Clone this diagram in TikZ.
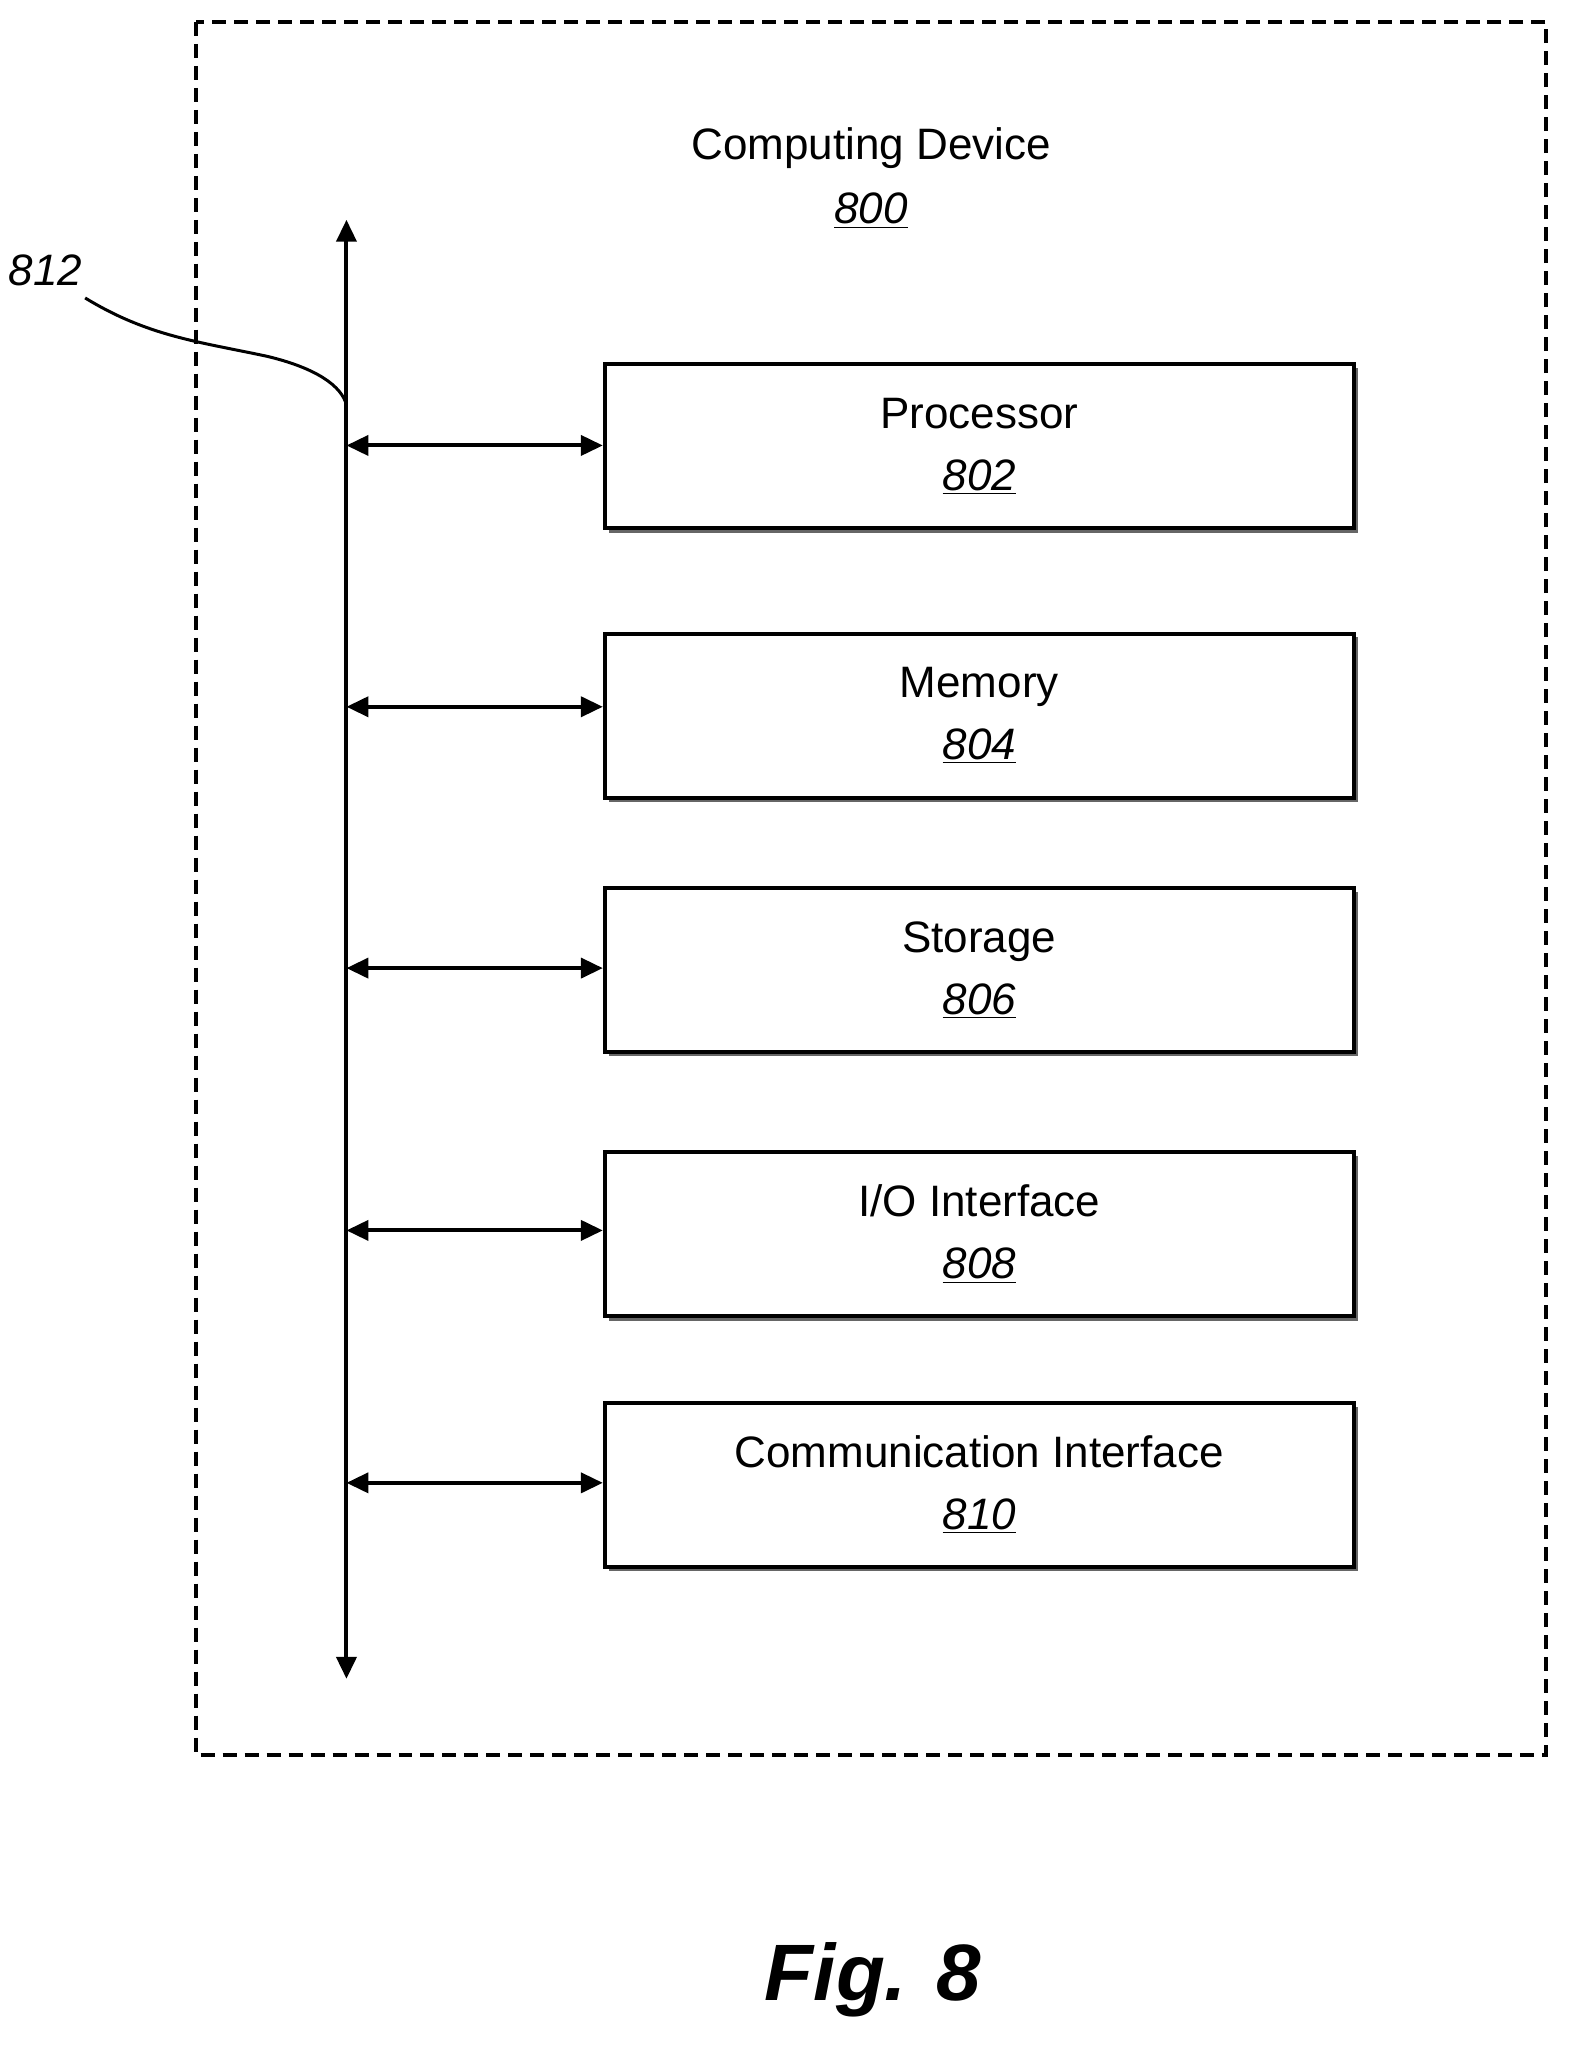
\documentclass[tikz,border=0pt]{standalone}
\usepackage{fontspec}
\setmainfont{Liberation Sans}
\usetikzlibrary{arrows.meta}
\begin{document}
\begin{tikzpicture}[x=0.495pt,y=-0.495pt,
  blk/.style={draw,line width=2pt,fill=white,minimum width=374.5pt,minimum height=82pt,anchor=north west,inner sep=0pt},
  lbl/.style={font=\fontsize{22}{28}\selectfont,align=center},
  bi/.style={{Triangle[length=11pt,width=10pt]}-{Triangle[length=11pt,width=10pt]},line width=2pt}]
\useasboundingbox (0,0) rectangle (1587,2073);
\draw[line width=2pt,dash pattern=on 7pt off 4pt] (198,22) rectangle (1562,1773);
\node[lbl] (title) at (880,180) {Computing Device\\[4pt]\underline{\textit{800}}};
\coordinate (bt) at (350,222);
\coordinate (bb) at (350,1696);
\draw[bi] (bb) -- (bt);
\node[font=\fontsize{22}{28}\selectfont\itshape] (l812) at (46,273) {812};
\coordinate (lead) at (350,409);
\draw[line width=1.5pt] (86,301) .. controls (150,340) and (200,345) .. (270,360) .. controls (320,372) and (345,390) .. (lead);
\foreach \n/\y/\t/\k/\ay in {p/366/Processor/802/450, m/638/Memory/804/714, s/895/Storage/806/978, i/1162/{I/O Interface}/808/1243, c/1415/Communication Interface/810/1498}{
  \fill[black!60] (615,\y+6) rectangle (1372,\y+172);
  \node[blk] (\n) at (609,\y) {};
  \node[lbl] (\n t) at (\n.center) {\t\\[3pt]\underline{\textit{\k}}};
  \coordinate (\n a) at (350,\ay);
  \draw[bi] (\n a) -- (\n.west |- \n a);
}
\node[font=\fontsize{40}{44}\selectfont\bfseries\itshape] (fig) at (882,2000) {Fig. 8};
\end{tikzpicture}
\end{document}
